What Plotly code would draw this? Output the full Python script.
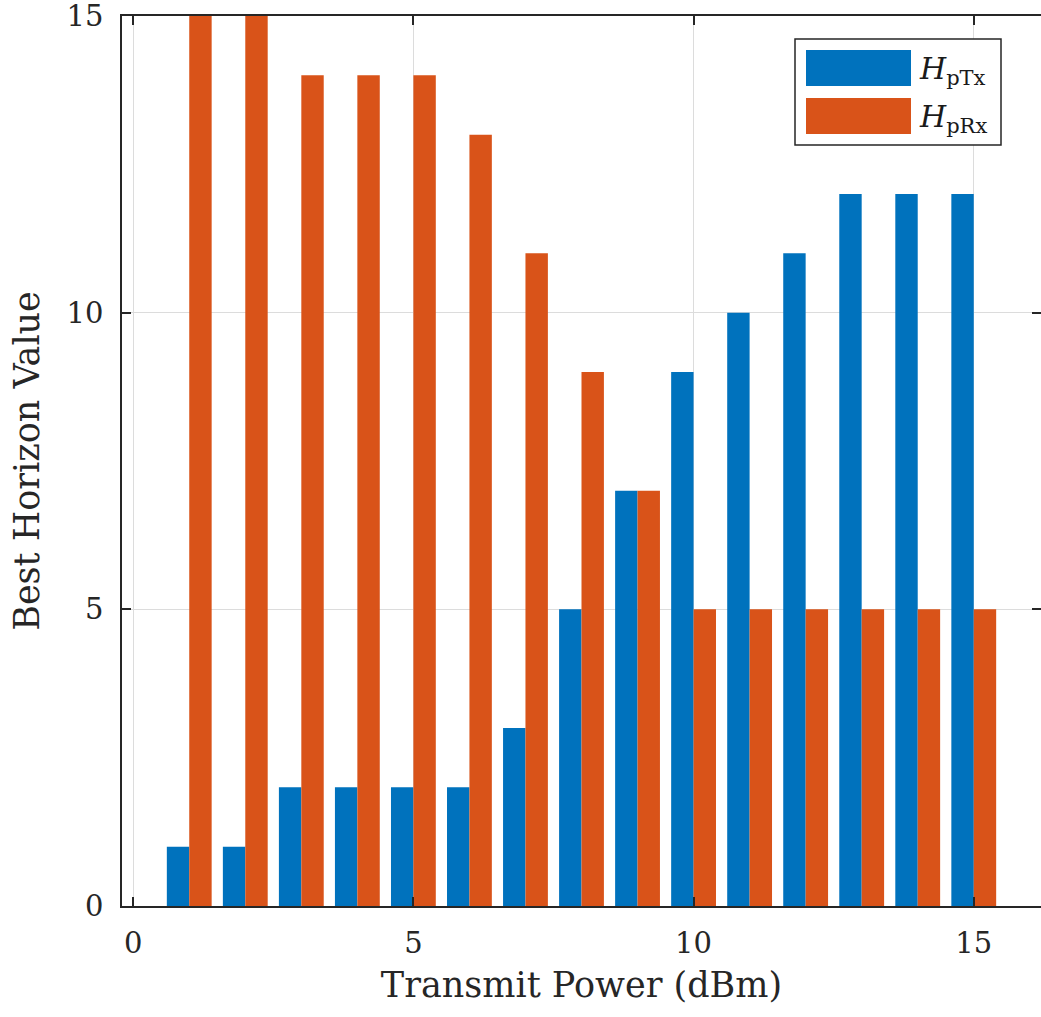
import plotly.graph_objects as go

power_dbm = list(range(1, 16))
h_ptx = [1, 1, 2, 2, 2, 2, 3, 5, 7, 9, 10, 11, 12, 12, 12]
h_prx = [15, 15, 14, 14, 14, 13, 11, 9, 7, 5, 5, 5, 5, 5, 5]
labels = ["<i>H</i><sub>pTx</sub>", "<i>H</i><sub>pRx</sub>"]
colors = ["#0072BD", "#D95319"]
tick_vals = [0, 5, 10, 15]

W, H = 1041, 1017
L, T, B, R = 122, 16, 111, 0
FONT = "DejaVu Serif"
AX = "#262626"

fig = go.Figure()
fig.add_trace(go.Bar(x=power_dbm, y=h_ptx, marker=dict(color=colors[0], line=dict(width=0)),
                     name="pTx", showlegend=False))
fig.add_trace(go.Bar(x=power_dbm, y=h_prx, marker=dict(color=colors[1], line=dict(width=0)),
                     name="pRx", showlegend=False))
fig.add_trace(go.Scatter(x=[None], y=[None], yaxis="y2", showlegend=False, hoverinfo="skip"))

pw = W - L - R
ph = H - T - B
def px(x):
    return (x - L) / pw
def py(y):
    return (T + ph - y) / ph

shapes = [dict(type="rect", xref="paper", yref="paper", x0=px(795), x1=px(1001), y0=py(145), y1=py(39),
               line=dict(color=AX, width=1.5), fillcolor="white", layer="above")]
anns = []
for i, (lab, col) in enumerate(zip(labels, colors)):
    y0, y1 = 50 + i * 48, 86 + i * 48
    shapes.append(dict(type="rect", xref="paper", yref="paper", x0=px(806), x1=px(911),
                       y0=py(y1), y1=py(y0), line=dict(width=0), fillcolor=col, layer="above"))
    anns.append(dict(xref="paper", yref="paper", x=px(917), y=py((y0 + y1) / 2 + 2), xanchor="left",
                     yanchor="middle", text=lab, showarrow=False,
                     font=dict(family=FONT, size=30, color="#1a1a1a")))

rng_y = [0, 15]
fig.update_layout(
    width=W, height=H,
    margin=dict(l=L, r=R, t=T, b=B),
    paper_bgcolor="white", plot_bgcolor="white",
    barmode="group", bargap=0.2, bargroupgap=0,
    font=dict(family=FONT, size=29, color="#262626"),
    shapes=shapes, annotations=anns,
    xaxis=dict(range=[-0.2, 16.2], tickvals=tick_vals, showgrid=True, gridcolor="#dcdcdc",
               gridwidth=1, zeroline=False, showline=True, linecolor=AX, linewidth=1.5,
               mirror="ticks", ticks="inside", ticklen=9, tickcolor=AX, tickwidth=1.5,
               ticklabelstandoff=10, ticklabeloverflow="allow",
               tickfont=dict(size=29), title=dict(text="Transmit Power (dBm)", font=dict(size=35), standoff=14)),
    yaxis=dict(range=rng_y, tickvals=tick_vals, showgrid=True, gridcolor="#dcdcdc",
               gridwidth=1, zeroline=False, showline=True, linecolor=AX, linewidth=1.5,
               ticks="inside", ticklen=9, tickcolor=AX, tickwidth=1.5,
               ticklabelstandoff=11, ticklabeloverflow="allow",
               tickfont=dict(size=29), title=dict(text="Best Horizon Value", font=dict(size=35), standoff=16)),
    yaxis2=dict(range=rng_y, tickvals=tick_vals, overlaying="y", side="right",
                showticklabels=False, showgrid=False, zeroline=False, showline=False,
                ticks="inside", ticklen=9, tickcolor=AX, tickwidth=1.5),
)

fig.write_html("out.html")
